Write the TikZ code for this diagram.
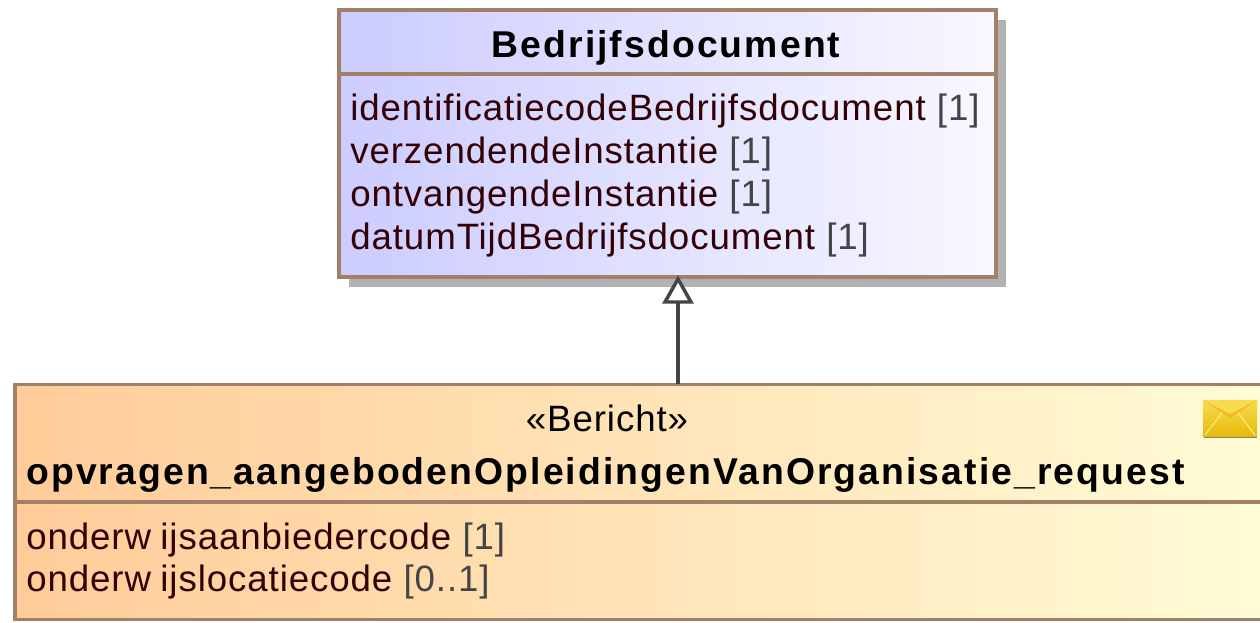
\documentclass[tikz,border=0pt]{standalone}
\usepackage{fontspec}
\setmainfont{Liberation Sans}
\newfontfamily\attrfont[LetterSpace=2.5]{Liberation Sans}
\newfontfamily\titlefont[LetterSpace=5.6,BoldFont={Liberation Sans Bold}]{Liberation Sans}
\definecolor{umlborder}{HTML}{A08068}
\definecolor{umltext}{HTML}{330006}
\definecolor{umlmult}{HTML}{444444}
\definecolor{umlshadow}{HTML}{B2B2B2}
\definecolor{umlline}{HTML}{444444}
\definecolor{bluestart}{HTML}{CCCCFF}
\definecolor{blueend}{HTML}{F8F8FF}
\definecolor{orangestart}{HTML}{FFCC99}
\definecolor{orangeend}{HTML}{FFFCD6}
\definecolor{envtop}{HTML}{F8DC50}
\definecolor{envbottom}{HTML}{E9B90A}
\definecolor{envflap}{HTML}{F5B921}
\definecolor{envedge}{HTML}{FFE98A}
\tikzset{
    classbox/.style={draw=umlborder,line width=2.3pt,anchor=north west,inner sep=0pt,outer sep=0pt},
    attrline/.style={anchor=base west,inner sep=0pt,text=umltext,font=\fontsize{27.5pt}{30pt}\attrfont},
    titleline/.style={anchor=base,inner sep=0pt,text=black,font=\fontsize{28pt}{30pt}\titlefont\bfseries},
}
\newcommand{\mult}[1]{\textcolor{umlmult}{[#1]}}
\begin{document}
\begin{tikzpicture}[x=0.75pt,y=-0.75pt]
            \useasboundingbox (0,0) rectangle (1260,622);
            \clip (0,0) rectangle (1260,622);
            % upper class
            \fill[umlshadow] (349,20) rectangle (1006,287);
            \node[classbox,left color=bluestart,right color=blueend,minimum width=492.75pt,minimum height=200.25pt] (bedrijf) at (339,10) {};
            \draw[umlborder,line width=2.3pt] (339,74)--(996,74);
            \node[titleline] (bedrijftitle) at (666,57) {Bedrijfsdocument};
            \node[attrline] (attra) at (350,120) {identificatiecodeBedrijfsdocument \mult{1}};
            \node[attrline] (attrb) at (350,163) {verzendendeInstantie \mult{1}};
            \node[attrline] (attrc) at (350,206) {ontvangendeInstantie \mult{1}};
            \node[attrline] (attrd) at (350,249) {datumTijdBedrijfsdocument \mult{1}};
            % lower class, runs off the page on the right
            \node[classbox,left color=orangestart,right color=orangeend,minimum width=945pt,minimum height=176.25pt] (bericht) at (15,384.5) {};
            \draw[umlborder,line width=2.3pt] (15,502)--(1270,502);
            \node[anchor=base,inner sep=0pt,text=black,font=\fontsize{27.5pt}{30pt}\attrfont] (stereo) at (607,431) {«Bericht»};
            \node[titleline,anchor=base west] (berichttitle) at (26,484) {opvragen\_aangebodenOpleidingenVanOrganisatie\_request};
            \node[attrline] (attre) at (26,549) {onderw\kern7pt ijsaanbiedercode \mult{1}};
            \node[attrline] (attrf) at (26,591) {onderw\kern7pt ijslocatiecode \mult{0..1}};
            % generalisation
            \coordinate (genstart) at (678,384);
            \draw[umlline,line width=3pt] (genstart)--(678,303);
            \draw[umlline,line width=2.6pt,fill=white,line join=miter] (678,279)--(691,302)--(665,302)--cycle;
            % envelope icon
            \fill[black!50] (1204,404) rectangle (1257,438);
            \shade[top color=envtop,bottom color=envbottom] (1203,400) rectangle (1257,436);
            \fill[envflap] (1203,400)--(1230,418)--(1257,400)--cycle;
            \fill[envtop] (1203,400)--(1230,414)--(1257,400)--cycle;
            \draw[envedge,line width=0.8pt] (1205,435)--(1222,413) (1255,435)--(1238,413);
        \end{tikzpicture}
\end{document}
